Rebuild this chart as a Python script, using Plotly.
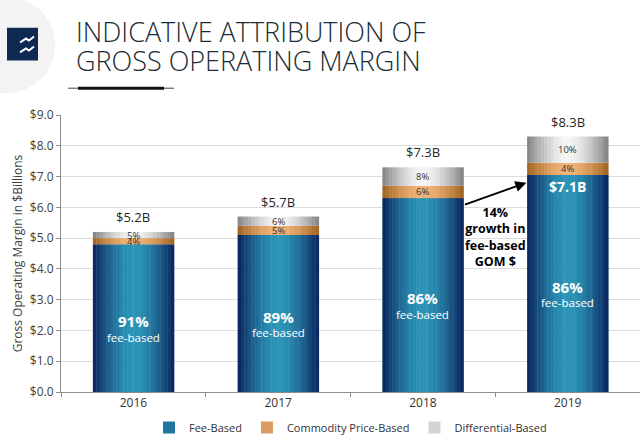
import plotly.graph_objects as go

# ---------------- data ----------------
years = ["2016", "2017", "2018", "2019"]
fee_based = [4.8, 5.1, 6.3, 7.05]
commodity_based = [0.2, 0.3, 0.4, 0.4]
differential_based = [0.2, 0.3, 0.6, 0.85]
fee_pct = ["91%", "89%", "86%", "86%"]
commodity_pct = ["4%", "5%", "6%", "4%"]
differential_pct = ["5%", "6%", "8%", "10%"]
total_labels = ["$5.2B", "$5.7B", "$7.3B", "$8.3B"]
fee_2019_label = "$7.1B"
growth_text = "14%<br>growth in<br>fee-based<br>GOM $"
y_ticks = [0, 1, 2, 3, 4, 5, 6, 7, 8, 9]
y_tick_labels = ["$%.1f" % v for v in y_ticks]

# ---------------- geometry helpers (layout only) ----------------
W, H = 640, 442
L, R, T, B = 61, 0, 115, 48
PW, PH = W - L - R, H - T - B


def px(x):
    return (x - L) / PW


def py(y):
    return (H - B - y) / PH


FONT = "Open Sans"
BW = 0.56
N = 24


def mix(c1, c2, t):
    return "rgb(%d,%d,%d)" % tuple(round(a + (b - a) * t) for a, b in zip(c1, c2))


series = [
    ("Fee-Based", fee_based, [0] * 4, (44, 150, 184), (10, 34, 92)),
    ("Commodity Price-Based", commodity_based, fee_based, (242, 180, 120), (158, 98, 34)),
    ("Differential-Based", differential_based,
     [f + c for f, c in zip(fee_based, commodity_based)], (246, 246, 246), (128, 128, 128)),
]

xi = list(range(len(years)))

fig = go.Figure()
for name, vals, base, cc, ce in series:
    for i in range(N):
        t = abs(2 * (i + 0.5) / N - 1)
        col = mix(cc, ce, t ** 1.6)
        fig.add_trace(go.Bar(
            x=years, y=vals, base=base,
            offset=-BW / 2 + i * BW / N, width=BW / N + 0.003,
            marker=dict(color=col, line=dict(width=0)),
            name=name, legendgroup=name,
            showlegend=(i == N // 4),
            hoverinfo="skip",
        ))

totals = [f + c + d for f, c, d in zip(fee_based, commodity_based, differential_based)]

ann = []
for k in xi:
    ann.append(dict(x=k, y=totals[k], text=total_labels[k], showarrow=False,
                    yanchor="bottom", yshift=4,
                    font=dict(family=FONT, size=13, color="#262626")))
    ann.append(dict(x=k, y=fee_based[k] + commodity_based[k] + differential_based[k] / 2,
                    text=differential_pct[k], showarrow=False,
                    font=dict(family=FONT, size=9.5, color="#333333")))
    ann.append(dict(x=k, y=fee_based[k] + commodity_based[k] / 2,
                    text=commodity_pct[k], showarrow=False,
                    font=dict(family=FONT, size=9.5, color="#333333")))
    ann.append(dict(x=k, y=fee_based[k] / 2, text="<b>%s</b>" % fee_pct[k],
                    showarrow=False, yshift=-3,
                    font=dict(family=FONT, size=15, color="white")))
    ann.append(dict(x=k, y=fee_based[k] / 2, text="fee-based",
                    showarrow=False, yshift=-19,
                    font=dict(family=FONT, size=11.5, color="white")))

ann.append(dict(x=3, y=fee_based[3], text="<b>%s</b>" % fee_2019_label,
                showarrow=False, yshift=-11,
                font=dict(family=FONT, size=14, color="white")))

# growth arrow
ann.append(dict(x=3 - BW / 2 - 0.005, y=fee_based[3] - 0.25,
                ax=2 + BW / 2, ay=fee_based[2] - 0.23,
                xref="x", yref="y", axref="x", ayref="y",
                text="", showarrow=True, arrowhead=2, arrowsize=1.1,
                arrowwidth=2, arrowcolor="#000000"))
ann.append(dict(x=2.5, y=(fee_based[2] + fee_based[3]) / 2 - 1.65,
                text="<b>%s</b>" % growth_text, showarrow=False,
                font=dict(family=FONT, size=12.5, color="#000000")))

# title
ann.append(dict(xref="paper", yref="paper", x=px(74), y=py(31), xanchor="left",
                yanchor="middle", text="INDICATIVE ATTRIBUTION OF", showarrow=False,
                font=dict(family=FONT, size=27, color="#1b2b35", weight=300)))
ann.append(dict(xref="paper", yref="paper", x=px(74), y=py(60), xanchor="left",
                yanchor="middle", text="GROSS OPERATING MARGIN", showarrow=False,
                font=dict(family=FONT, size=27, color="#1b2b35", weight=300)))

shapes = [
    dict(type="circle", xref="paper", yref="paper", x0=px(-42), x1=px(55),
         y0=py(-4), y1=py(93), fillcolor="#f3f3f3", line=dict(width=0), layer="below"),
    dict(type="rect", xref="paper", yref="paper", x0=px(7), x1=px(38),
         y0=py(27), y1=py(60), fillcolor="#0f2a52", line=dict(width=0)),
    dict(type="path", xref="paper", yref="paper",
         path="M %f,%f L %f,%f L %f,%f L %f,%f" % (px(20), py(42), px(26), py(38),
                                                  px(29), py(40), px(34), py(36)),
         line=dict(color="white", width=2)),
    dict(type="path", xref="paper", yref="paper",
         path="M %f,%f L %f,%f L %f,%f L %f,%f" % (px(20), py(52), px(26), py(48),
                                                  px(29), py(50), px(34), py(46)),
         line=dict(color="white", width=2)),
    dict(type="line", xref="paper", yref="paper", x0=px(68), x1=px(174),
         y0=py(88), y1=py(88), line=dict(color="#444444", width=1)),
    dict(type="line", xref="paper", yref="paper", x0=px(78), x1=px(164),
         y0=py(88), y1=py(88), line=dict(color="#111111", width=3)),
]

fig.update_layout(
    width=W, height=H,
    margin=dict(l=L, r=R, t=T, b=B),
    barmode="overlay",
    plot_bgcolor="white", paper_bgcolor="white",
    font=dict(family=FONT, color="#404040"),
    annotations=ann, shapes=shapes,
    legend=dict(orientation="h", x=0.5, xanchor="center", y=-0.13, yanchor="middle",
                font=dict(family=FONT, size=11, color="#333333"),
                itemwidth=30, traceorder="normal"),
    xaxis=dict(type="category", range=[-0.5, 3.5], tickson="boundaries",
               ticks="outside", ticklen=4, tickcolor="#8c8c8c",
               showline=True, linecolor="#8c8c8c", linewidth=1,
               showgrid=False,
               tickfont=dict(family=FONT, size=12, color="#333333")),
    yaxis=dict(range=[0, 9], tickvals=y_ticks, ticktext=y_tick_labels,
               ticks="outside", ticklen=4, tickcolor="#8c8c8c",
               showline=True, linecolor="#8c8c8c", linewidth=1,
               showgrid=True, gridcolor="#dcdcdc", gridwidth=1, zeroline=False,
               tickfont=dict(family=FONT, size=12, color="#404040"),
               title=dict(text="Gross Operating Margin in $Billions", standoff=4,
                          font=dict(family=FONT, size=12, color="#404040"))),
)

fig.write_html("out.html")
